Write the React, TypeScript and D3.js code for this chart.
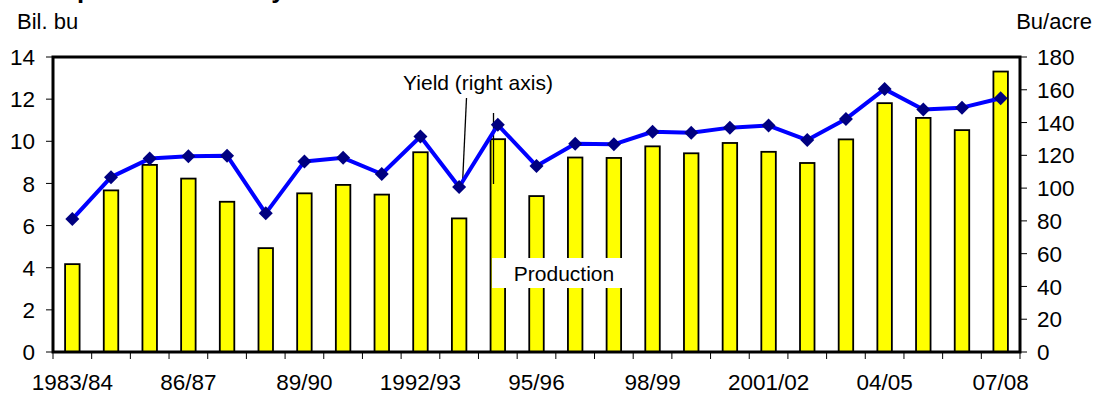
import React from "react";
import * as d3 from "d3";

const years = [
  "1983/84","1984/85","1985/86","1986/87","1987/88","1988/89","1989/90","1990/91","1991/92",
  "1992/93","1993/94","1994/95","1995/96","1996/97","1997/98","1998/99","1999/00","2000/01",
  "2001/02","2002/03","2003/04","2004/05","2005/06","2006/07","2007/08",
];
const production = [
  4.17, 7.67, 8.88, 8.23, 7.13, 4.93, 7.53, 7.93, 7.47, 9.48, 6.34, 10.1, 7.4, 9.23, 9.21,
  9.76, 9.43, 9.92, 9.5, 8.97, 10.09, 11.81, 11.11, 10.53, 13.31,
];
const yieldVals = [
  81.1, 106.7, 118.0, 119.4, 119.8, 84.6, 116.3, 118.5, 108.6, 131.5, 100.7, 138.6, 113.5,
  127.1, 126.7, 134.4, 133.8, 136.9, 138.2, 129.3, 142.2, 160.4, 148.0, 149.1, 154.8,
];
const xLabels: Record<number, string> = {
  0: "1983/84", 3: "86/87", 6: "89/90", 9: "1992/93", 12: "95/96", 15: "98/99",
  18: "2001/02", 21: "04/05", 24: "07/08",
};
const leftTicks = [0, 2, 4, 6, 8, 10, 12, 14];
const rightTicks = [0, 20, 40, 60, 80, 100, 120, 140, 160, 180];

export default function App() {
  const L = 53, R = 1020, T = 57, B = 352;
  const font = "Arial, 'Liberation Sans', sans-serif";
  const x = d3.scaleBand<number>().domain(years.map((_, i) => i)).range([L, R]).padding(0);
  const bw = x.bandwidth();
  const yL = d3.scaleLinear().domain([0, 14]).range([B, T]);
  const yR = d3.scaleLinear().domain([0, 180]).range([B, T]);
  const barW = 14.5;
  const line = d3
    .line<number>()
    .x((_, i) => (x(i) as number) + bw / 2)
    .y((d) => yR(d));
  const dm = 7;
  return (
    <svg width={1096} height={396} style={{ position: "absolute", left: 0, top: 0, background: "#fff" }} fontFamily={font}>
      <rect x={0} y={0} width={1096} height={396} fill="#fff" />
      <text x={10} y={-2} fontSize={25.7} fontWeight="bold">Corn production and yield</text>
      <text x={17} y={29} fontSize={22}>Bil. bu</text>
      <text x={1092} y={29} fontSize={22} textAnchor="end">Bu/acre</text>

      {production.map((v, i) => (
        <rect
          key={"b" + i}
          x={(x(i) as number) + (bw - barW) / 2}
          y={yL(v)}
          width={barW}
          height={B - yL(v)}
          fill="#FFFF00"
          stroke="#000"
          strokeWidth={1.8}
        />
      ))}

      {/* Production label box */}
      <rect x={492} y={258} width={134} height={30} fill="#fff" />
      <text x={564} y={281} fontSize={21} textAnchor="middle">Production</text>

      {/* yield leader lines */}
      <line x1={466.5} y1={98} x2={462.5} y2={184} stroke="#000" strokeWidth={1.3} />
      <line x1={493.5} y1={113} x2={493.5} y2={184} stroke="#000" strokeWidth={1.3} />

      <path d={line(yieldVals) || ""} fill="none" stroke="#0000FF" strokeWidth={4} strokeLinejoin="round" />
      {yieldVals.map((v, i) => {
        const cx = (x(i) as number) + bw / 2;
        const cy = yR(v);
        return (
          <path key={"m" + i} d={`M${cx},${cy - dm}L${cx + dm},${cy}L${cx},${cy + dm}L${cx - dm},${cy}Z`} fill="#000080" />
        );
      })}

      <text x={478} y={90} fontSize={21} textAnchor="middle">Yield (right axis)</text>

      {/* frame */}
      <rect x={L} y={T} width={R - L} height={B - T} fill="none" stroke="#000" strokeWidth={3} />

      {/* left ticks */}
      {leftTicks.map((t) => (
        <g key={"l" + t}>
          <line x1={46} x2={L} y1={yL(t)} y2={yL(t)} stroke="#000" strokeWidth={1} />
          <text x={35} y={yL(t)} dy="0.36em" fontSize={22.5} textAnchor="end">{t}</text>
        </g>
      ))}
      {/* right ticks */}
      {rightTicks.map((t) => (
        <g key={"r" + t}>
          <line x1={R} x2={R + 7} y1={yR(t)} y2={yR(t)} stroke="#000" strokeWidth={1} />
          <text x={1037} y={yR(t)} dy="0.36em" fontSize={22.5} textAnchor="start">{t}</text>
        </g>
      ))}
      {/* bottom ticks */}
      {d3.range(years.length + 1).map((i) => {
        const xx = L + i * bw;
        return <line key={"t" + i} x1={xx} x2={xx} y1={B} y2={B + 7} stroke="#000" strokeWidth={1} />;
      })}
      {years.map((_, i) =>
        xLabels[i] ? (
          <text key={"x" + i} x={(x(i) as number) + bw / 2} y={390} fontSize={22.5} textAnchor="middle">
            {xLabels[i]}
          </text>
        ) : null
      )}
    </svg>
  );
}
